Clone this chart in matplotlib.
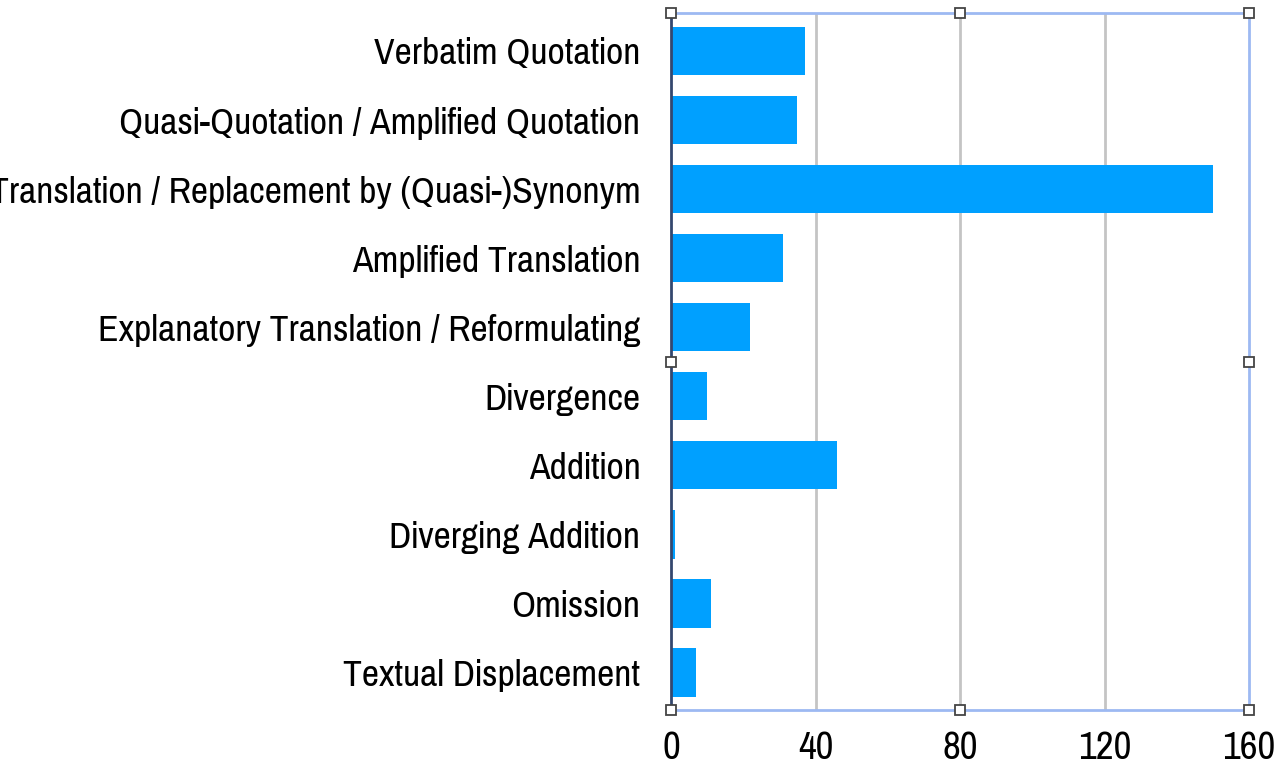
import matplotlib.pyplot as plt
import numpy as np

categories = ['Verbatim Quotation',
              'Quasi-Quotation / Amplified Quotation',
              'Translation / Replacement by (Quasi-)Synonym',
              'Amplified Translation',
              'Explanatory Translation / Reformulating',
              'Divergence',
              'Addition',
              'Diverging Addition',
              'Omission',
              'Textual Displacement']
counts = [37, 35, 150, 31, 22, 10, 46, 1, 11, 7]
x_ticks = [0, 40, 80, 120, 160]

plt.rcParams['font.family'] = ['Pragati Narrow', 'Liberation Sans', 'DejaVu Sans']

fig = plt.figure(figsize=(12.86, 7.8), dpi=100)
ax = fig.add_axes([671 / 1286, 1 - 710 / 780, 578 / 1286, 697 / 780])

ypos = np.arange(len(categories))
ax.barh(ypos, counts, height=0.7, color='#00a0ff', zorder=3)

ax.set_xlim(0, 160)
ax.set_ylim(9.543, -0.55)
ax.set_xticks(x_ticks)
ax.set_xticklabels([str(t) for t in x_ticks], fontsize=30.5)
ax.set_yticks(ypos)
ax.set_yticklabels(categories, fontsize=29.5)
ax.tick_params(axis='both', length=0)
ax.tick_params(axis='y', pad=22)
ax.tick_params(axis='x', pad=15)

# vertical grid lines
for t in x_ticks[1:-1]:
    ax.axvline(t, color='#c4c4c4', linewidth=2, zorder=1)

for side in ['top', 'right', 'bottom']:
    ax.spines[side].set_color('#9db9f2')
    ax.spines[side].set_linewidth(2)
ax.spines['left'].set_color('#34476e')
ax.spines['left'].set_linewidth(2)
ax.spines['left'].set_zorder(4)

# selection handles
hx = [0, 0.5, 1, 0, 1, 0, 0.5, 1]
hy = [1, 1, 1, 0.5, 0.5, 0, 0, 0]
ax.plot(hx, hy, linestyle='none', marker='s', markersize=7.5, markerfacecolor='white',
        markeredgecolor='#444444', markeredgewidth=1.3, transform=ax.transAxes,
        clip_on=False, zorder=5)

fig.savefig('out.png', dpi=100)
